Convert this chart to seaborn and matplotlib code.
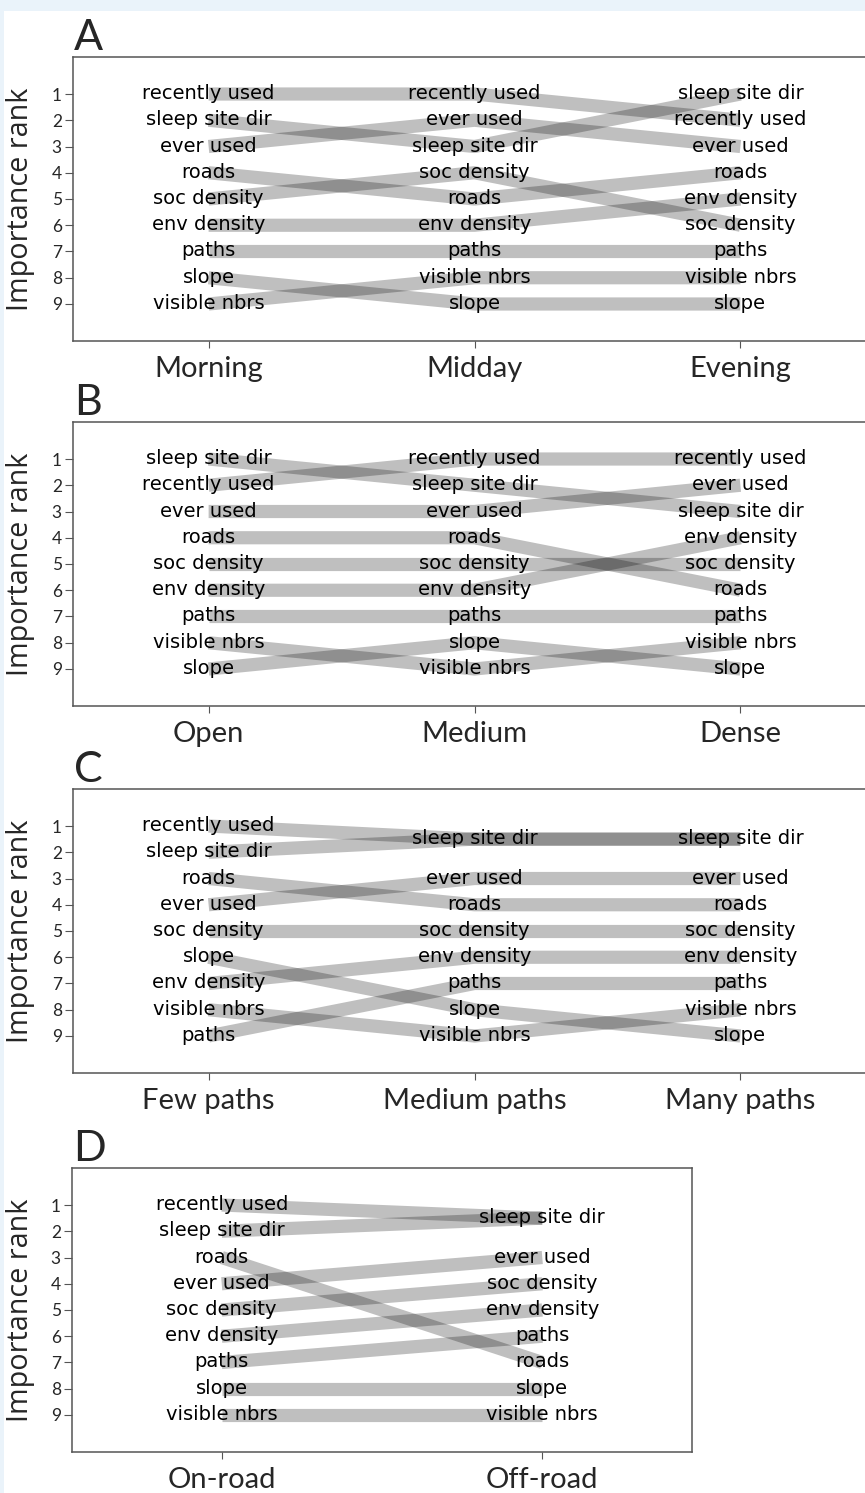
import numpy as np
import pandas as pd
import seaborn as sns
import matplotlib
matplotlib.use("Agg")
import matplotlib.pyplot as plt
from matplotlib.patches import Rectangle

# variables ranked in every panel
variables = ["recently used", "sleep site dir", "ever used", "roads", "soc density",
             "env density", "paths", "slope", "visible nbrs"]

# A - time of day
time_conds = ["Morning", "Midday", "Evening"]
time_morning = [1, 2, 3, 4, 5, 6, 7, 8, 9]
time_midday = [1, 3, 2, 5, 4, 6, 7, 9, 8]
time_evening = [2, 1, 3, 4, 6, 5, 7, 9, 8]

# B - habitat density
veg_conds = ["Open", "Medium", "Dense"]
veg_open = [2, 1, 3, 4, 5, 6, 7, 9, 8]
veg_medium = [1, 2, 3, 4, 5, 6, 7, 8, 9]
veg_dense = [1, 3, 2, 6, 5, 4, 7, 9, 8]

# C - path density
path_conds = ["Few paths", "Medium paths", "Many paths"]
path_few = [1, 2, 4, 3, 5, 7, 9, 6, 8]
path_medium = [1.5, 1.5, 3, 4, 5, 6, 7, 8, 9]
path_many = [1.5, 1.5, 3, 4, 5, 6, 7, 9, 8]

# D - road
road_conds = ["On-road", "Off-road"]
road_on = [1, 2, 4, 3, 5, 6, 7, 8, 9]
road_off = [1.5, 1.5, 3, 7, 4, 5, 6, 8, 9]

sns.set_style("white")
plt.rcParams["font.family"] = ["DejaVu Sans"]

W, H = 865, 1493
fig = plt.figure(figsize=(W / 100, H / 100), dpi=100)
fig.patch.set_facecolor("#EAF3FA")
fig.add_artist(Rectangle((4 / W, 0), 1, (H - 11) / H, transform=fig.transFigure,
                         facecolor="white", edgecolor="none", zorder=-5))

edge = "#555555"


def draw_panel(left, top, bottom, width, letter, conds, ranks, xlim):
    ax = fig.add_axes([left / W, (H - bottom) / H, width / W, (bottom - top) / H])
    rows = []
    for ci, rk in enumerate(ranks):
        for var, r in zip(variables, rk):
            rows.append({"variable": var, "pos": ci, "rank": r})
    df = pd.DataFrame(rows)
    sns.lineplot(data=df, x="pos", y="rank", units="variable", estimator=None,
                 color="black", alpha=0.25, linewidth=9.5, solid_capstyle="butt",
                 legend=False, ax=ax, zorder=2)
    # one label per position (ties show a single name)
    for ci, rk in enumerate(ranks):
        shown = {}
        for var, r in zip(variables, rk):
            shown[r] = var
        for r, var in shown.items():
            ax.annotate(var, (ci, r), xytext=(0, -5), textcoords="offset pixels",
                        ha="center", va="baseline", fontsize=14,
                        family="DejaVu Sans", color="black", zorder=3)
    ax.set_xlim(*xlim)
    ax.set_ylim(10.41, -0.41)
    ax.set_xticks(range(len(conds)), conds, fontsize=21, family="Lato")
    ax.set_yticks(range(1, 10), [str(i) for i in range(1, 10)], fontsize=12.5, family="Lato")
    ax.tick_params(axis="x", length=5, width=0.8, color=edge, pad=6, bottom=True)
    ax.tick_params(axis="y", length=6, width=0.8, color=edge, pad=2, left=True)
    ax.set_xlabel("")
    ax.set_ylabel("Importance rank", fontsize=20.7, family="Open Sans")
    ax.yaxis.set_label_coords((35 - left) / width, 0.5)
    for s in ax.spines.values():
        s.set_color(edge)
        s.set_linewidth(1.1)
    ax.annotate(letter, (0, 1), xycoords="axes fraction", xytext=(1, 7),
                textcoords="offset pixels", ha="left", va="baseline",
                fontsize=31, family="Lato")
    return ax


draw_panel(73, 57, 341, 803, "A", time_conds, [time_morning, time_midday, time_evening], (-0.51, 2.51))
draw_panel(73, 422, 706, 803, "B", veg_conds, [veg_open, veg_medium, veg_dense], (-0.51, 2.51))
draw_panel(73, 789, 1073, 803, "C", path_conds, [path_few, path_medium, path_many], (-0.51, 2.51))
draw_panel(72, 1168, 1452, 620, "D", road_conds, [road_on, road_off], (-0.467, 1.467))

fig.savefig("out.png", dpi=100, facecolor=fig.get_facecolor())
